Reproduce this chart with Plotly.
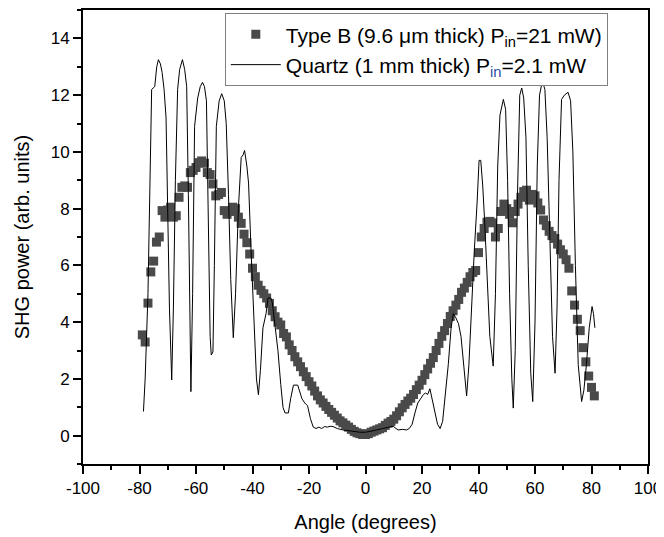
import plotly.graph_objects as go

# Type B (9.6 um thick) SHG power vs angle
angle_b = list(range(-79, 82))
power_b = [
    3.55, 3.30, 4.67, 5.77, 6.15, 6.82, 7.00, 7.93, 7.70, 7.95,   # -79..-70
    8.05, 7.70, 7.75, 8.40, 8.75, 8.80, 8.75, 9.27, 9.35, 9.45,   # -69..-60
    9.62, 9.68, 9.60, 9.27, 9.20, 8.87, 8.45, 8.50, 8.57, 7.93,   # -59..-50
    7.80, 7.90, 8.05, 8.00, 7.70, 7.48, 7.10, 6.80, 6.40, 5.90,   # -49..-40
    5.60, 5.30, 5.12, 5.00, 4.85, 4.66, 4.40, 4.19, 4.00, 3.90,   # -39..-30
    3.60, 3.48, 3.20, 3.00, 2.78, 2.60, 2.43, 2.25, 2.08, 1.90,   # -29..-20
    1.75, 1.57, 1.40, 1.26, 1.15, 1.03, 0.92, 0.82, 0.72, 0.62,   # -19..-10
    0.52, 0.45, 0.37, 0.30, 0.22, 0.15, 0.10, 0.07, 0.04,         # -9..-1
    0.04,                                                         # 0
    0.07, 0.12, 0.16, 0.20, 0.24, 0.28, 0.36, 0.44, 0.50, 0.58,   # 1..10
    0.70, 0.84, 0.98, 1.10, 1.22, 1.32, 1.45, 1.62, 1.78, 1.95,   # 11..20
    2.15, 2.35, 2.55, 2.75, 3.00, 3.25, 3.50, 3.70, 3.95, 4.20,   # 21..30
    4.40, 4.60, 4.80, 5.05, 5.20, 5.40, 5.60, 5.75, 5.82, 6.45,   # 31..40
    7.00, 7.30, 7.52, 7.55, 7.50, 7.00, 7.30, 7.90, 8.16, 8.00,   # 41..50
    7.80, 7.50, 7.90, 8.16, 8.40, 8.60, 8.65, 8.30, 8.50, 8.45,   # 51..60
    8.20, 7.95, 7.60, 7.40, 7.20, 7.05, 6.95, 6.75, 6.55, 6.40,   # 61..70
    6.20, 5.90, 5.10, 4.60, 4.10, 3.70, 3.10, 2.60, 2.10, 1.70,   # 71..80
    1.40,                                                         # 81
]

# Quartz (1 mm thick) reference
angle_q = [
    -78.6, -78.0, -77.0, -76.3, -75.7, -74.6, -73.9, -73.3, -72.6, -72.0,
    -71.3, -70.6, -70.0, -69.4, -68.6, -68.0, -67.3, -66.5, -65.8, -64.8,
    -64.0, -63.3, -62.7, -62.2, -61.8, -61.2, -60.5, -59.4, -58.5, -57.7,
    -57.0, -56.3, -55.7, -55.0, -54.6, -54.0, -53.5, -52.8, -51.8, -50.9,
    -50.0, -49.3, -48.5, -47.7, -46.8, -46.0, -45.0, -44.0, -43.3, -42.8,
    -42.0, -41.4, -40.5, -39.5, -38.6, -37.9, -37.2, -36.3, -35.2, -34.5,
    -33.5, -33.0, -32.0, -31.0, -30.0, -29.2, -28.5, -27.3, -26.5, -25.5,
    -24.0, -23.2, -22.5, -21.5, -20.5, -19.5, -18.5, -17.5, -16.5, -15.5,
    -14.5, -13.5, -12.5, -11.5, -10.0, -8.0, -6.0, -4.0, -2.0, 0.0,
    2.0, 4.0, 6.0, 8.0, 9.8, 10.8, 11.6, 13.0, 14.5, 15.5,
    16.5, 17.5, 18.5, 19.5, 20.5, 21.3, 22.0, 22.8, 23.5, 24.5,
    25.5, 26.4, 27.3, 28.3, 29.3, 30.3, 31.1, 32.0, 32.9, 33.8,
    34.8, 35.8, 36.6, 37.5, 38.5, 39.5, 40.2, 40.8, 41.5, 42.2,
    43.0, 44.0, 45.2, 46.0, 46.8, 47.6, 48.8, 49.6, 50.3, 51.0,
    51.8, 52.3, 53.0, 53.8, 54.6, 55.3, 56.0, 56.8, 57.6, 58.5,
    59.2, 60.0, 60.8, 61.6, 62.6, 63.5, 64.3, 65.2, 66.2, 67.1,
    67.8, 68.5, 69.4, 70.4, 71.7, 72.6, 73.4, 74.3, 75.3, 76.5,
    77.3, 78.2, 79.2, 80.2, 80.7, 81.2,
]
power_q = [
    0.85, 2.0, 5.0, 9.0, 12.2, 12.3, 13.0, 13.25, 13.1, 12.8,
    12.2, 11.2, 8.0, 4.5, 1.96, 4.5, 9.0, 12.2, 12.9, 13.25,
    12.9, 12.3, 8.5, 4.0, 1.55, 5.0, 10.9, 11.9, 12.3, 12.45,
    12.3, 11.8, 8.0, 3.5, 2.84, 2.95, 6.0, 10.9, 11.8, 12.05,
    11.8, 11.0, 8.5, 5.5, 3.45, 5.0, 8.0, 9.8, 9.9, 10.05,
    9.5, 8.9, 6.5, 4.0, 2.0, 1.44, 2.3, 3.8, 4.3, 4.85,
    4.85, 4.7, 3.9, 3.0, 1.8, 1.0, 0.8, 0.8, 1.3, 1.78,
    1.78, 1.5, 1.3, 1.15, 1.05, 0.6, 0.3, 0.25, 0.3, 0.25,
    0.32, 0.3, 0.33, 0.32, 0.25, 0.2, 0.17, 0.14, 0.12, 0.12,
    0.15, 0.2, 0.25, 0.3, 0.33, 0.25, 0.2, 0.22, 0.2, 0.25,
    0.4, 0.8, 1.15, 1.3, 1.45, 1.5, 1.45, 1.65, 1.3, 0.8,
    0.4, 0.25, 0.5, 1.5, 2.5, 3.8, 4.3, 4.15, 3.95, 3.5,
    2.5, 1.4, 2.5, 4.5, 6.5, 8.2, 9.7, 9.7, 8.8, 7.5,
    5.5, 3.5, 2.45, 5.0, 9.5, 11.3, 11.85, 11.5, 9.0, 5.0,
    2.0, 0.97, 3.0, 8.5, 12.0, 12.25, 11.9, 10.5, 6.0, 2.2,
    1.2, 4.0, 9.5, 12.0, 12.5, 12.2, 10.5, 7.0, 3.5, 2.2,
    4.5, 9.0, 11.85, 12.0, 12.1, 11.8, 10.0, 6.0, 2.5, 1.2,
    1.6, 2.5, 3.8, 4.55, 4.3, 3.8,
]

x_ticks = [-100, -80, -60, -40, -20, 0, 20, 40, 60, 80, 100]
x_ticktext = ["-100", "-80", "-60", "-40", "-20", "0", "20", "40", "60", "80", "100"]
y_ticks = [0, 2, 4, 6, 8, 10, 12, 14]

name_b = "Type B (9.6 \u03bcm thick) P<sub>in</sub>=21 mW)"
name_q = "Quartz (1 mm thick) P<sub><span style='color:#2d4fa0'>in</span></sub>=2.1 mW"

FONT = "Arial, Liberation Sans, sans-serif"

fig = go.Figure()
fig.add_trace(go.Scatter(
    x=angle_b, y=power_b, mode="markers", name=name_b,
    marker=dict(symbol="square", size=9, color="#4a4a4a", line=dict(width=0)),
    legendrank=1,
))
fig.add_trace(go.Scatter(
    x=angle_q, y=power_q, mode="lines", name=name_q,
    line=dict(color="black", width=1),
    legendrank=2,
))

axis_common = dict(
    showgrid=False, zeroline=False, automargin=False,
    showline=True, linecolor="black", linewidth=2, mirror=True,
    ticks="outside", ticklen=8, tickwidth=1.5, tickcolor="black",
    tickfont=dict(family=FONT, size=17, color="black"),
)

fig.update_xaxes(
    range=[-100, 100], tickvals=x_ticks, ticktext=x_ticktext,
    minor=dict(dtick=10, tick0=0, ticks="outside", ticklen=4, tickcolor="black", tickwidth=1.5),
    title=dict(text="Angle (degrees)", font=dict(family=FONT, size=20, color="black"), standoff=18),
    **axis_common,
)
fig.update_yaxes(
    range=[-1, 15], tickvals=y_ticks,
    minor=dict(dtick=1, tick0=0, ticks="outside", ticklen=4, tickcolor="black", tickwidth=1.5),
    title=dict(text="SHG power (arb. units)", font=dict(family=FONT, size=20, color="black"), standoff=16),
    **axis_common,
)

# page body has an 8px default margin, so the figure is offset by (8, 8)
fig.update_layout(
    width=656, height=529,
    margin=dict(l=75, r=16, t=2, b=73),
    paper_bgcolor="white", plot_bgcolor="white",
    font=dict(family=FONT, color="black"),
    legend=dict(
        x=0.251, y=0.993, xanchor="left", yanchor="top",
        bgcolor="white", bordercolor="#808080", borderwidth=1,
        font=dict(family=FONT, size=21, color="black"),
        itemwidth=50, tracegroupgap=0,
    ),
)

fig.write_html("out.html")
